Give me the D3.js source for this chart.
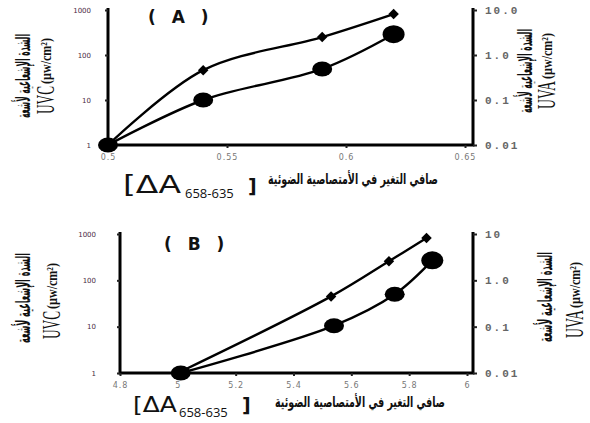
<!DOCTYPE html>
<html>
<head>
<meta charset="utf-8">
<script src="https://cdn.jsdelivr.net/npm/d3@7"></script>
<style>
  body { margin: 0; background: #fff; }
  svg { display: block; }
</style>
</head>
<body>
<svg id="chart" width="590" height="423"></svg>
<script>
// Panel A data
const xTicksA = [0.5, 0.55, 0.6, 0.65];
const diamondXA = [0.5, 0.54, 0.59, 0.62];
const diamondYA = [1, 46, 250, 810];        // UVC (left axis)
const circleXA = [0.5, 0.54, 0.59, 0.62];
const circleYA = [0.01, 0.1, 0.49, 2.9];    // UVA (right axis)
const leftTicks = [1, 10, 100, 1000];
const rightTicks = [0.01, 0.1, 1, 10];
const rightLabelsA = ["0.01", "0.1", "1.0", "10.0"];

// Panel B data
const xTicksB = [4.8, 5, 5.2, 5.4, 5.6, 5.8, 6];
const diamondXB = [5.0, 5.53, 5.73, 5.86];
const diamondYB = [1, 45, 258, 820];
const circleXB = [5.01, 5.54, 5.75, 5.88];
const circleYB = [0.01, 0.105, 0.5, 2.7];
const rightLabelsB = ["0.01", "0.1", "1.0", "10"];

const arabicY = "الشدة الإشعاعية لأشعة";
const arabicX = "صافي التغير في الأمتصاصية الضوئية";

const svg = d3.select("#chart");

// squeeze a text horizontally (in its own frame) to a target width
function fit(parent, x, y, w, anchor) {
  const wrap = parent.append("g");
  const t = wrap.append("text").attr("text-anchor", anchor || "start");
  return {
    text: t,
    done() {
      const L = t.node().getComputedTextLength();
      wrap.attr("transform", `translate(${x},${y}) scale(${w / L},1)`);
      return t;
    }
  };
}

function panel(cfg) {
  const g = svg.append("g");
  const x = d3.scaleLinear().domain(cfg.xDomain).range([cfg.left, cfg.xEnd]);
  const yL = d3.scaleLog().domain([1, 1000]).range([cfg.bottom, cfg.top]);
  const yR = d3.scaleLog().domain([0.01, 10]).range([cfg.bottom, cfg.top]);

  // axes frame (left, bottom, right)
  g.append("path")
    .attr("d", `M${cfg.left},${cfg.top - 2}V${cfg.bottom}H${cfg.right}V${cfg.top - 2}`)
    .attr("fill", "none").attr("stroke", "#000").attr("stroke-width", 3);

  // x ticks
  const xAxis = g.append("g")
    .attr("transform", `translate(0,${cfg.bottom})`)
    .call(d3.axisBottom(x).tickValues(cfg.xTicks).tickSize(3).tickPadding(6).tickFormat(d => d));
  xAxis.select(".domain").remove();
  xAxis.selectAll("line").attr("stroke", "#222").attr("stroke-width", 2);
  xAxis.selectAll("text").attr("font-family", "DejaVu Sans").attr("font-size", 8)
    .attr("fill", "#777").style("letter-spacing", "1px");

  // left ticks
  const yAxis = g.append("g")
    .attr("transform", `translate(${cfg.left},0)`)
    .call(d3.axisLeft(yL).tickValues(leftTicks).tickSize(3).tickPadding(cfg.lPad).tickFormat(d3.format("d")));
  yAxis.select(".domain").remove();
  yAxis.selectAll("line").attr("stroke", "#222").attr("stroke-width", 2);
  yAxis.selectAll("text").attr("font-family", "DejaVu Sans").attr("font-size", 7)
    .attr("fill", "#4a2a44");

  // right ticks
  const rAxis = g.append("g")
    .attr("transform", `translate(${cfg.right},0)`)
    .call(d3.axisRight(yR).tickValues(rightTicks).tickSize(4).tickPadding(8)
      .tickFormat((d, i) => cfg.rightLabels[i]));
  rAxis.select(".domain").remove();
  rAxis.selectAll("line").attr("stroke", "#222").attr("stroke-width", 2);
  rAxis.selectAll("text").attr("font-family", "Liberation Mono").attr("font-size", 11)
    .attr("font-weight", "bold").attr("fill", "#666").style("letter-spacing", "2px");

  // lines
  const dPts = cfg.dX.map((v, i) => [x(v), yL(cfg.dY[i])]);
  const cPts = cfg.cX.map((v, i) => [x(v), yR(cfg.cY[i])]);
  const line = d3.line().curve(d3.curveCatmullRom.alpha(0.5));
  g.append("path").attr("d", line(dPts)).attr("fill", "none")
    .attr("stroke", "#000").attr("stroke-width", 2.4);
  g.append("path").attr("d", line(cPts)).attr("fill", "none")
    .attr("stroke", "#000").attr("stroke-width", 2.4);

  // markers
  g.selectAll(".dia").data(dPts.slice(1)).join("path")
    .attr("d", d3.symbol(d3.symbolSquare, 55)())
    .attr("transform", d => `translate(${d[0]},${d[1]}) rotate(45)`)
    .attr("fill", "#000");
  g.selectAll(".cir").data(cPts).join("ellipse")
    .attr("cx", d => d[0]).attr("cy", d => d[1])
    .attr("rx", (d, i) => i === cPts.length - 1 ? 11 : 10)
    .attr("ry", (d, i) => i === cPts.length - 1 ? 9 : 7.5)
    .attr("fill", "#000");

  // panel title
  g.append("text").attr("x", cfg.titleX).attr("y", cfg.titleY)
    .attr("font-family", "DejaVu Sans").attr("font-weight", "bold").attr("font-size", 17)
    .style("letter-spacing", "5px").attr("fill", "#111").text(cfg.title);

  // x label
  const xl = g.append("g").attr("transform", `translate(${cfg.xl.x},${cfg.xl.y})`);
  const br = fit(xl, 0, 0, cfg.xl.w);
  br.text.attr("font-family", "DejaVu Sans").attr("font-size", cfg.xl.size).attr("fill", "#111").text("[ΔA");
  br.done();
  xl.append("text").attr("x", cfg.xl.sub).attr("y", 5)
    .attr("font-family", "Open Sans").attr("font-size", 13).attr("fill", "#111")
    .text("658-635");
  xl.append("text").attr("x", cfg.xl.close).attr("y", 0)
    .attr("font-family", "DejaVu Sans").attr("font-weight", "bold").attr("font-size", 19).attr("fill", "#111")
    .text("]");
  const ax = fit(xl, cfg.xl.ar, cfg.xl.arY, 170, "middle");
  ax.text.attr("font-family", "DejaVu Sans").attr("font-weight", "bold").attr("font-size", 15)
    .attr("fill", "#111").text(arabicX);
  ax.done();

  // y labels, both read bottom to top
  function yLabel(cx, gap, cy, len, unit) {
    const t = g.append("g").attr("transform", `translate(${cx},${cy}) rotate(-90)`);
    const ar = fit(t, 0, 0, len, "middle");
    ar.text.attr("font-family", "DejaVu Sans").attr("font-weight", "bold").attr("font-size", 20)
      .attr("fill", "#111").text(arabicY);
    ar.done();
    const a = -len / 2 + 4;
    const u = fit(t, a, gap, 28);
    u.text.attr("font-family", "Liberation Serif").attr("font-size", 25).attr("fill", "#111").text(unit);
    u.done();
    const m = fit(t, a + 30, gap - 3, 46);
    m.text.attr("font-family", "Liberation Serif").attr("font-weight", "bold").attr("font-size", 15)
      .attr("fill", "#111").text("(µw/cm²)");
    m.done();
  }
  yLabel(cfg.lLab[0], cfg.lLab[1], cfg.lLab[2], cfg.labLen, "UVC");
  yLabel(cfg.rLab[0], cfg.rLab[1], cfg.rLab[2], cfg.labLen, "UVA");
}

panel({
  xDomain: [0.5, 0.65], xTicks: xTicksA, left: 108, xEnd: 465, right: 473, lPad: 14,
  top: 10, bottom: 145, dX: diamondXA, dY: diamondYA, cX: circleXA, cY: circleYA,
  rightLabels: rightLabelsA, title: "( A )", titleX: 148, titleY: 23,
  xl: { x: 123, y: 193, size: 24, w: 58, sub: 62, close: 125, ar: 230, arY: -9 },
  labLen: 84, lLab: [30, 24, 76], rLab: [532, 23, 71]
});

panel({
  xDomain: [4.8, 6], xTicks: xTicksB, left: 120, xEnd: 467, right: 473, lPad: 21,
  top: 234, bottom: 373, dX: diamondXB, dY: diamondYB, cX: circleXB, cY: circleYB,
  rightLabels: rightLabelsB, title: "( B )", titleX: 164, titleY: 250,
  xl: { x: 133, y: 412, size: 22, w: 44, sub: 46, close: 109, ar: 227, arY: -5 },
  labLen: 90, lLab: [30, 30, 298], rLab: [552, 31, 297]
});
</script>
</body>
</html>
